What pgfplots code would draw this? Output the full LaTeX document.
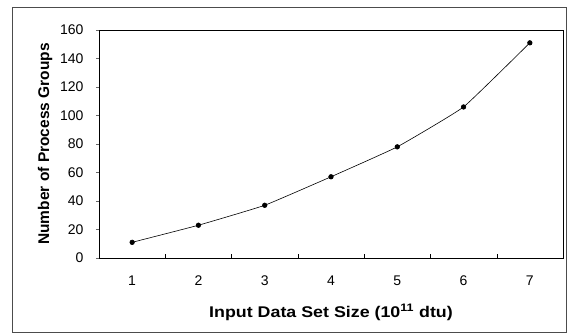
\documentclass[border=0pt]{standalone}
\usepackage{pgfplots}
\pgfplotsset{compat=1.18}
\usepackage{fontspec}
\setmainfont{Liberation Sans}
\begin{document}
\begin{tikzpicture}[x=1pt,y=1pt]
\begin{axis}[
  scale only axis,
  width=464pt, height=228pt,
  xmin=0.5, xmax=7.5, ymin=0, ymax=160,
  xtick={1,...,7},
  minor xtick={1.5,2.5,...,6.5},
  ytick={0,20,...,160},
  xtick pos=bottom, ytick pos=left,
  major x tick style={draw=none},
  minor x tick style={black, thin},
  minor tick length=4pt,
  y tick style={black!60, thin},
  ytick align=outside,
  major tick length=3pt,
  xticklabel style={font=\fontsize{14}{16}\selectfont, yshift=-14pt},
  yticklabel style={font=\fontsize{14}{16}\selectfont, xshift=-9pt},
  /pgf/number format/assume math mode=true,
  xlabel={\scalebox{1.15}[1]{\textbf{Input Data Set Size (10\textsuperscript{11} dtu)}}},
  ylabel={\textbf{Number of Process Groups}},
  label style={font=\fontsize{15.5}{18}\selectfont},
  xlabel style={yshift=-12pt},
  ylabel style={yshift=1pt},
  axis line style={black, line width=0.8pt},
  clip=false,
]
\addplot[black, line width=0.6pt, smooth, tension=0.2, mark=*, mark size=2.3pt,
  mark options={solid, fill=black}]
  coordinates {(1,11) (2,23) (3,37) (4,57) (5,78) (6,106) (7,151)};
\coordinate (o) at (rel axis cs:0,0);
\end{axis}
\draw[black!70, line width=0.8pt] (o) ++(-87pt,-74pt) rectangle ++(554pt,325pt);
\path (o) ++(-99pt,-77pt) rectangle ++(571pt,335pt);
\end{tikzpicture}
\end{document}
